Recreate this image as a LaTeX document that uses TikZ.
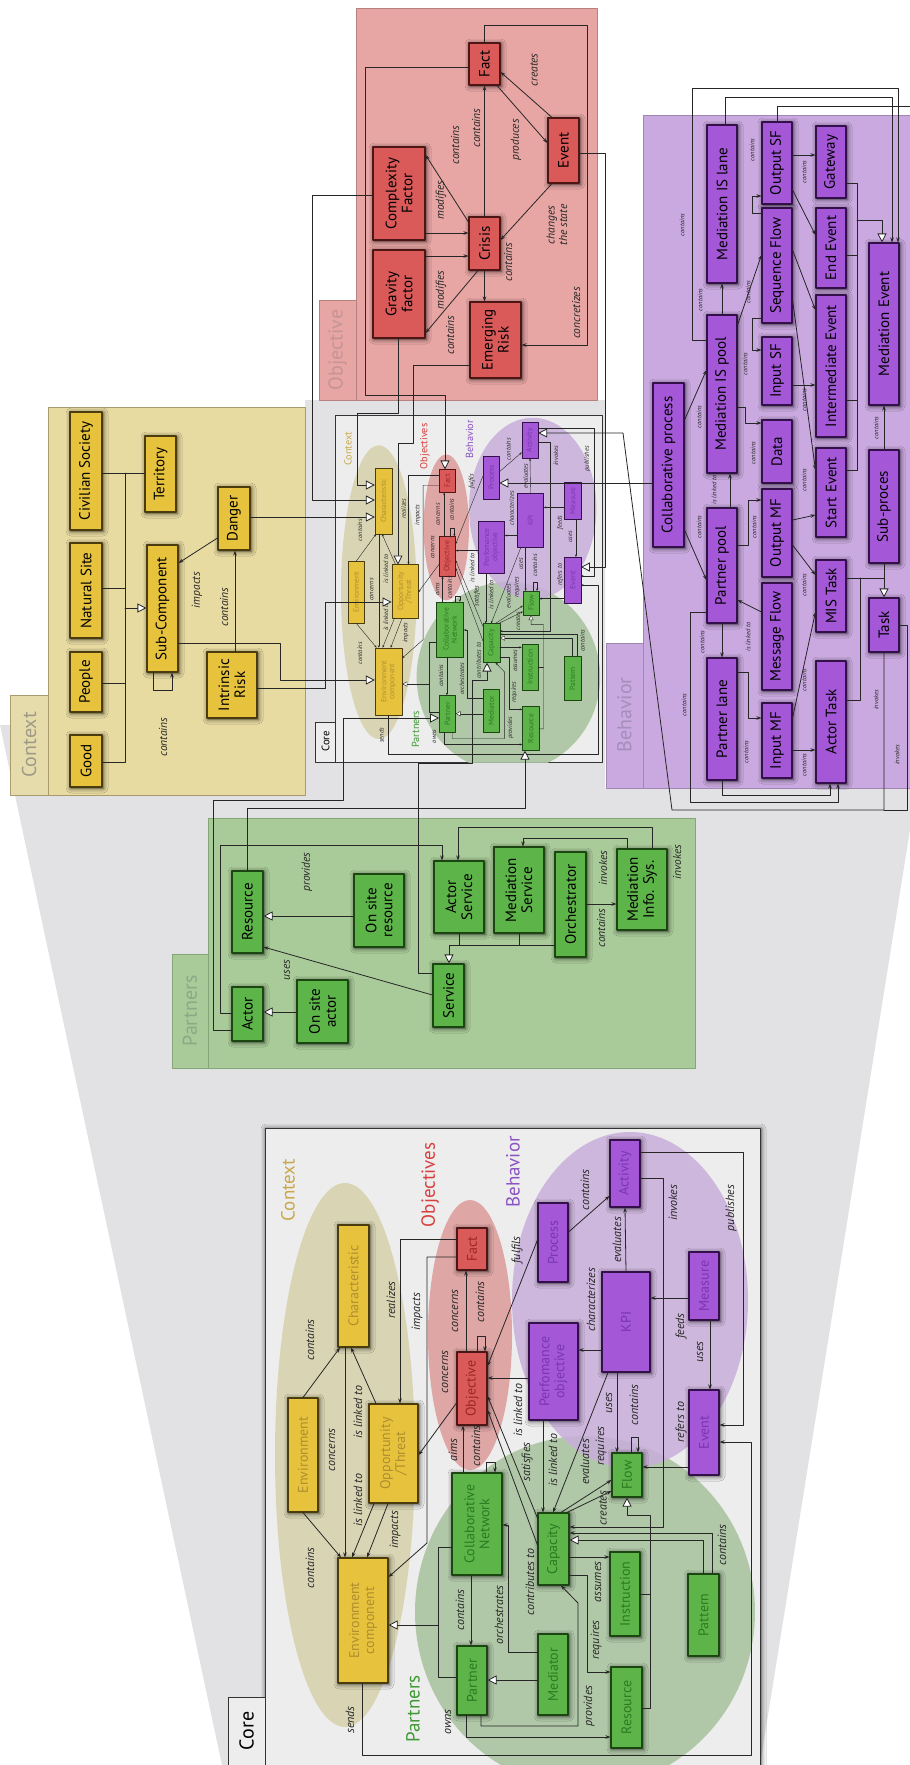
\documentclass[tikz,border=0pt]{standalone}
\usepackage{fontspec}
\setmainfont{PT Sans}
\usetikzlibrary{arrows.meta,shadows.blur}

\definecolor{colctxbg}{HTML}{E8DBA2}
\definecolor{colctxline}{HTML}{A89C6E}
\definecolor{colctxtab}{HTML}{E6DCAB}
\definecolor{colctxtabtext}{HTML}{9E9A86}
\definecolor{colynode}{HTML}{E6C23D}
\definecolor{colyline}{HTML}{4A3C0C}
\definecolor{colytext}{HTML}{B08E2E}
\definecolor{colobjbg}{HTML}{E7A6A4}
\definecolor{colobjline}{HTML}{B58280}
\definecolor{colobjtabtext}{HTML}{C59494}
\definecolor{colrnode}{HTML}{D95A59}
\definecolor{colrline}{HTML}{4E1515}
\definecolor{colrtext}{HTML}{9E2626}
\definecolor{colbehbg}{HTML}{C9A9DF}
\definecolor{colbehline}{HTML}{9F86B5}
\definecolor{colbehtabtext}{HTML}{A58EBB}
\definecolor{colpnode}{HTML}{A458D8}
\definecolor{colpline}{HTML}{34104A}
\definecolor{colptext}{HTML}{7A36AE}
\definecolor{colpartbg}{HTML}{A9CB99}
\definecolor{colpartline}{HTML}{86A67A}
\definecolor{colparttabtext}{HTML}{8BA984}
\definecolor{colgnode}{HTML}{5DB54A}
\definecolor{colgline}{HTML}{1B4511}
\definecolor{colgtext}{HTML}{2C7A20}
\definecolor{colcorebg}{HTML}{EDEDED}
\definecolor{colfunnel}{HTML}{E2E2E4}
\definecolor{colctxell}{HTML}{D9D5B4}
\definecolor{colobjell}{HTML}{DEA6A5}
\definecolor{colbehell}{HTML}{C9AEDB}
\definecolor{colpartell}{HTML}{ABC5A1}
\definecolor{colctxtitle}{HTML}{C9A84C}
\definecolor{colobjtitle}{HTML}{D8403E}
\definecolor{colbehtitle}{HTML}{8A52C2}
\definecolor{colparttitle}{HTML}{3E9934}

\newcommand\nodefont{\fontsize{15}{16}\selectfont}
\newcommand\corefont{\fontsize{14}{15}\selectfont}
\newcommand\lblfont{\fontsize{11.5}{12.5}\selectfont\itshape}
\newcommand\clblfont{\fontsize{12}{13}\selectfont\itshape}
\newcommand\tinyfont{\fontsize{6.5}{7}\selectfont\itshape}
\newcommand\tabfont{\fontsize{20}{22}\selectfont}
\newcommand\titlefont{\fontsize{19}{21}\selectfont}
\newcommand\corelw{0.8pt}
\newcommand\boxlw{1.1pt}
\newcommand\arrl{5pt}
\newcommand\arrw{3.6pt}
\newcommand\trl{9pt}
\newcommand\trw{9pt}

% the core model, drawn twice (full size and as a thumbnail)
\newcommand\drawcore{%
  \draw[coreframe] (265,1128) rectangle (760,1770);
  \draw[coretab] (228,1697) rectangle (265,1770);
  \node[tabtitle, text=black] (coretitle) at (246.5,1731) {Core};
  \begin{scope}
    \clip (265,1128) rectangle (760,1770);
    \fill[colctxell] (345,1455) ellipse [x radius=70, y radius=272];
    \fill[colobjell] (470,1335) ellipse [x radius=42, y radius=135];
    \fill[colpartell, opacity=0.9] (585,1612) ellipse [x radius=170, y radius=176];
    \fill[colbehell, opacity=0.85] (630,1300) ellipse [x radius=118, y radius=168];
  \end{scope}
  \node[ctitle, text=colctxtitle] (ttlctx) at (288,1190) {Context};
  \node[ctitle, text=colobjtitle] (ttlobj) at (430,1185) {Objectives};
  \node[ctitle, text=colbehtitle] (ttlbeh) at (513,1172) {Behavior};
  \node[ctitle, text=colparttitle] (ttlpart) at (413,1709) {Partners};
  % nodes
  \node[cybox, minimum width=122, minimum height=31] (char) at (353.5,1286) {Characteristic};
  \node[cybox, minimum width=114, minimum height=30] (env) at (303,1455) {Environment};
  \node[cybox, minimum width=99, minimum height=49] (opp) at (393.5,1453.5) {Opportunity\\/Threat};
  \node[cybox, minimum width=125, minimum height=50] (envcomp) at (363,1620.5) {Environment\\component};
  \node[crbox, minimum width=42, minimum height=30] (cfact) at (472,1249) {Fact};
  \node[crbox, minimum width=73, minimum height=30] (objective) at (472,1388.5) {Objective};
  \node[cpbox, minimum width=79, minimum height=30] (process) at (553,1242.5) {Process};
  \node[cpbox, minimum width=67, minimum height=30] (activity) at (625,1173.5) {Activity};
  \node[cpbox, minimum width=100, minimum height=48] (kpi) at (626,1322) {KPI};
  \node[cpbox, minimum width=97, minimum height=49] (perfobj) at (553.5,1371.5) {Perfomance\\objective};
  \node[cpbox, minimum width=68, minimum height=30] (measure) at (704,1286) {Measure};
  \node[cpbox, minimum width=85, minimum height=30] (cevent) at (704,1432.5) {Event};
  \node[cgbox, minimum width=44, minimum height=30] (flow) at (627,1475) {Flow};
  \node[cgbox, minimum width=102, minimum height=50] (collnet) at (477,1524) {Collaborative\\Network};
  \node[cgbox, minimum width=72, minimum height=31] (capacity) at (553.5,1549) {Capacity};
  \node[cgbox, minimum width=69, minimum height=30] (partner) at (472,1680.5) {Partner};
  \node[cgbox, minimum width=81, minimum height=30] (mediator) at (553,1674.5) {Mediator};
  \node[cgbox, minimum width=84, minimum height=30] (instruction) at (625,1594) {Instruction};
  \node[cgbox, minimum width=81, minimum height=31] (cresource) at (626.5,1707.5) {Resource};
  \node[cgbox, minimum width=82, minimum height=31] (pattern) at (703.5,1615) {Pattern};
  % connectors
  \draw[ln,arr] (env.east) -- (char.west -| 340,0);
  \draw[ln,arr] (env.west) -- (envcomp.east -| 341,0);
  \draw[ln,arr] (char.west -| 345,0) -- (envcomp.east -| 345,0);
  \draw[ln,arr] (opp.east -| 376,0) -- (char.west -| 351,0);
  \draw[ln,arr] (opp.west -| 374,0) -- (envcomp.east -| 352,0);
  \draw[ln,arr] (opp.west -| 388,0) -- (envcomp.east -| 367,0);
  \draw[ln,arr] (cfact.north |- 0,1239) -- (400,1239) -- (opp.east -| 400,0);
  \draw[ln,arr] (cfact.north |- 0,1257) -- (427,1257) -- (427,1543) -- (envcomp.south |- 0,1577);
  \draw[ln,arr] (objective.north |- 0,1403) -- (opp.south |- 0,1455);
  \draw[ln,arr] (objective.east -| 466,0) -- (cfact.west -| 466,0);
  \draw[ln,arr] (objective.east -| 477,0) -- (477,1336) -- (485,1336) -- (objective.east -| 485,0);
  \draw[ln,arr] (collnet.east -| 463,0) -- (objective.west -| 463,0);
  \draw[ln,arr] (collnet.east -| 486,0) -- (486,1462) -- (495,1462) -- (collnet.east -| 495,0);
  \draw[ln,arr] (perfobj.north |- 0,1378) -- (objective.south |- 0,1378);
  \draw[ln,arr] (process.north |- 0,1240) -- (objective.south |- 0,1366);
  \draw[ln,arr] (process.south |- 0,1232) -- (activity.north |- 0,1196);
  \draw[ln,arr] (kpi.east -| 626,0) -- (activity.west);
  \draw[ln,arr] (kpi.north |- 0,1350) -- (perfobj.south |- 0,1350);
  \draw[ln,arr] (measure.north |- 0,1298) -- (kpi.south |- 0,1298);
  \draw[ln,arr] (measure.west -| 710,0) -- (cevent.east -| 710,0);
  \draw[ln,arr] (cevent.north |- 0,1467) -- (flow.south |- 0,1467);
  \draw[ln,arr] (kpi.west -| 617,0) -- (flow.east -| 617,0);
  \draw[ln,arr] (flow.east -| 631,0) -- (631,1437) -- (638,1437) -- (flow.east -| 638,0);
  \draw[ln,arr] (activity.south |- 0,1178) -- (663,1178) -- (663,1527) -- (capacity.south |- 0,1527);
  \draw[ln,arr] (activity.south |- 0,1152) -- (743,1152) -- (743,1425) -- (cevent.south |- 0,1425);
  \draw[ln,arr] (envcomp.west -| 362,0) -- (362,1755) -- (751,1755) -- (751,1442) -- (cevent.south |- 0,1442);
  \draw[ln,arr] (partner.west -| 466,0) -- (466,1737) -- (cresource.north |- 0,1737);
  \draw[ln,arr] (partner.west -| 481,0) -- (481,1726) -- (578,1726) -- (578,1603) -- (capacity.west -| 561,0);
  \draw[ln,tri] (mediator.north |- 0,1680) -- (partner.south |- 0,1680);
  \draw[ln,arr] (collnet.west -| 471,0) -- (partner.east -| 471,0);
  \draw[ln,arr] (mediator.north |- 0,1652) -- (508,1652) -- (508,1525) -- (collnet.south |- 0,1525);
  \draw[ln,arr] (capacity.north |- 0,1545) -- (objective.south |- 0,1410);
  \draw[ln,arr] (capacity.north |- 0,1518) -- (objective.south |- 0,1396);
  \draw[ln,arr] (perfobj.west -| 543,0) -- (capacity.east -| 543,0);
  \draw[ln,arr] (kpi.west -| 608,0) -- (capacity.east -| 553,0);
  \draw[ln,arr] (capacity.east -| 561,0) -- (flow.north |- 0,1480);
  \draw[ln,arr] (capacity.east -| 567,0) -- (flow.north |- 0,1491);
  \draw[ln,arr] (capacity.south |- 0,1557) -- (instruction.north |- 0,1557);
  \draw[ln,arr] (capacity.south |- 0,1575) -- (587,1575) -- (587,1672) -- (cresource.north |- 0,1672);
  \draw[ln] (instruction.south |- 0,1594) -- (650,1594);
  \draw[ln,tri] (cresource.south |- 0,1708) -- (650,1708) -- (650,1515) -- (627,1515) -- (flow.west);
  \draw[ln,tri] (pattern.east -| 703,0) -- (703,1540) -- (capacity.south |- 0,1540);
  \draw[ln,arr] (pattern.east -| 712,0) -- (712,1533) -- (capacity.south |- 0,1533);
  \draw[ln] (collnet.north |- 0,1547) -- (438,1547) -- (438,1677) -- (partner.north |- 0,1677);
  \draw[ln,tri] (438,1625) -- (envcomp.south |- 0,1625);
  % labels
  \node[clbl] (lc1) at (310,1340) {contains};
  \node[clbl] (lc2) at (310,1568) {contains};
  \node[clbl] (lc3) at (332,1450) {concerns};
  \node[clbl] (lc4) at (358,1412) {is linked to};
  \node[clbl] (lc5) at (358,1500) {is linked to};
  \node[clbl] (lc6) at (395,1530) {impacts};
  \node[clbl] (lc7) at (391,1300) {realizes};
  \node[clbl] (lc8) at (417,1312) {impacts};
  \node[clbl] (lc9) at (445,1372) {concerns};
  \node[clbl] (lc10) at (455,1311) {concerns};
  \node[clbl] (lc11) at (480,1302) {contains};
  \node[clbl] (lc12) at (453,1450) {aims};
  \node[clbl] (lc13) at (476,1446) {contains};
  \node[clbl] (lc14) at (518,1410) {is linked to};
  \node[clbl] (lc15) at (517,1250) {fulfils};
  \node[clbl] (lc16) at (585,1190) {contains};
  \node[clbl] (lc17) at (617,1240) {evaluates};
  \node[clbl] (lc18) at (591,1300) {characterizes};
  \node[clbl] (lc19) at (681,1326) {feeds};
  \node[clbl] (lc20) at (700,1352) {uses};
  \node[clbl] (lc21) at (681,1422) {refers to};
  \node[clbl] (lc22) at (609,1403) {uses};
  \node[clbl] (lc23) at (634,1405) {contains};
  \node[clbl] (lc24) at (673,1203) {invokes};
  \node[clbl] (lc25) at (731,1208) {publishes};
  \node[clbl] (lc26) at (350,1720) {sends};
  \node[clbl] (lc27) at (448,1722) {owns};
  \node[clbl] (lc28) at (589,1706) {provides};
  \node[clbl] (lc29) at (460,1610) {contains};
  \node[clbl] (lc30) at (499,1615) {orchestrates};
  \node[clbl] (lc31) at (530,1582) {contributes to};
  \node[clbl] (lc32) at (527,1462) {satisfies};
  \node[clbl] (lc33) at (553,1460) {is linked to};
  \node[clbl] (lc34) at (585,1462) {evaluates};
  \node[clbl] (lc35) at (601,1446) {requires};
  \node[clbl] (lc36) at (603,1508) {creates};
  \node[clbl] (lc37) at (598,1582) {assumes};
  \node[clbl] (lc38) at (596,1640) {requires};
  \node[clbl] (lc39) at (722,1545) {contains};
}

\begin{document}
\begin{tikzpicture}[
  x=1pt, y=-1pt,
  line cap=round, line join=round,
  ln/.style={draw=black!85, line width=\corelw},
  arr/.style={-{Stealth[length=\arrl,width=\arrw]}},
  tri/.style={-{Triangle[length=\trl,width=\trw,fill=white]}},
  cshadow/.style={blur shadow={shadow xshift=1pt,shadow yshift=-1pt,shadow blur radius=5pt,shadow opacity=75}},
  nbox/.style={rotate=90, draw=#1, line width=\boxlw, inner sep=1pt, align=center, cshadow},
  ybox/.style={nbox=colyline, fill=colynode, font=\nodefont},
  rbox/.style={nbox=colrline, fill=colrnode, font=\nodefont},
  pbox/.style={nbox=colpline, fill=colpnode, font=\nodefont},
  gbox/.style={nbox=colgline, fill=colgnode, font=\nodefont},
  cybox/.style={nbox=colyline, fill=colynode, text=colytext, font=\corefont},
  crbox/.style={nbox=colrline, fill=colrnode, text=colrtext, font=\corefont},
  cpbox/.style={nbox=colpline, fill=colpnode, text=colptext, font=\corefont},
  cgbox/.style={nbox=colgline, fill=colgnode, text=colgtext, font=\corefont},
  lbl/.style={rotate=90, font=\lblfont, inner sep=0.5pt, align=center, text=black!85},
  clbl/.style={lbl, font=\clblfont},
  tlbl/.style={lbl, font=\tinyfont},
  tabtitle/.style={rotate=90, font=\tabfont, inner sep=0pt},
  ctitle/.style={rotate=90, font=\titlefont, inner sep=0pt},
  grpframe/.style={draw=#1, line width=0.7pt},
  coreframe/.style={draw=black!80, line width=1pt, fill=colcorebg, cshadow},
  coretab/.style={draw=black!80, line width=1pt, fill=colcorebg}
]
  \useasboundingbox (0,0) rectangle (910,1765);
  \fill[white] (0,0) rectangle (910,1765);

  % funnel from the thumbnail to the core
  \fill[colfunnel] (305,400) -- (605,400) -- (605,788) -- (910,788) -- (910,830)
    -- (760,1765) -- (222,1765) -- (0,725) -- (305,725) -- cycle;

  % Context
  \draw[grpframe=colctxline, fill=colctxbg] (48,407) rectangle (305,795);
  \draw[grpframe=colctxline, fill=colctxtab] (10,695) rectangle (48,795);
  \node[tabtitle, text=colctxtabtext] (ctxtab) at (29,745) {Context};
  \node[ybox, minimum width=118, minimum height=32] (civsoc) at (86,471) {Civilian Society};
  \node[ybox, minimum width=95, minimum height=32] (natsite) at (86,590.5) {Natural Site};
  \node[ybox, minimum width=60, minimum height=32] (people) at (86,682) {People};
  \node[ybox, minimum width=52, minimum height=32] (good) at (86,761) {Good};
  \node[ybox, minimum width=76, minimum height=31] (territory) at (160.5,474) {Territory};
  \node[ybox, minimum width=127, minimum height=31] (subcomp) at (162.5,608.5) {Sub-Component};
  \node[ybox, minimum width=63, minimum height=32] (danger) at (234,518.5) {Danger};
  \node[ybox, minimum width=66, minimum height=50] (intrisk) at (232,685) {Intrinsic\\Risk};
  \draw[ln] (civsoc.south |- 0,473) -- (territory.north |- 0,473);
  \draw[ln] (125,473) -- (125,762) -- (good.south |- 0,762);
  \draw[ln] (natsite.south |- 0,588) -- (125,588);
  \draw[ln] (people.south |- 0,683) -- (125,683);
  \draw[ln,tri] (125,608) -- (subcomp.north |- 0,608);
  \draw[ln,arr] (subcomp.west -| 153,0) -- (153,690) -- (172,690) -- (subcomp.west -| 172,0);
  \draw[ln,arr] (danger.north |- 0,538) -- (subcomp.south |- 0,563);
  \draw[ln,arr] (intrisk.east -| 235,0) -- (danger.west -| 235,0);
  \node[lbl] (lx1) at (163,737) {contains};
  \node[lbl] (lx2) at (197,590) {impacts};
  \node[lbl] (lx3) at (224,607) {contains};

  % Objective
  \draw[grpframe=colobjline, fill=colobjbg] (356,8) rectangle (597,400);
  \draw[grpframe=colobjline, fill=colobjbg] (319,300) rectangle (356,400);
  \node[tabtitle, text=colobjtabtext] (objtab) at (337.5,350) {Objective};
  \node[rbox, minimum width=88, minimum height=52] (gravity) at (399,294) {Gravity\\factor};
  \node[rbox, minimum width=93, minimum height=52] (complexity) at (399,193.5) {Complexity\\Factor};
  \node[rbox, minimum width=53, minimum height=31] (crisis) at (484.5,243.5) {Crisis};
  \node[rbox, minimum width=42, minimum height=31] (fact) at (484.5,64) {Fact};
  \node[rbox, minimum width=65, minimum height=31] (event) at (563.5,150.5) {Event};
  \node[rbox, minimum width=76, minimum height=51] (emrisk) at (495.5,340) {Emerging\\Risk};
  \draw[ln,arr] (complexity.south |- 0,233) -- (crisis.north |- 0,233);
  \draw[ln,arr] (gravity.south |- 0,256) -- (crisis.north |- 0,256);
  \draw[ln,arr] (crisis.north |- 0,222) -- (complexity.south |- 0,155);
  \draw[ln,arr] (crisis.west -| 478,0) -- (gravity.south |- 0,333);
  \draw[ln,arr] (crisis.east) -- (fact.west);
  \draw[ln,arr] (crisis.west) -- (emrisk.east -| 484.5,0);
  \draw[ln,arr] (fact.west -| 497,0) -- (event.north |- 0,143);
  \draw[ln,arr] (event.east -| 552,0) -- (fact.south |- 0,72);
  \draw[ln,arr] (event.west -| 552,0) -- (crisis.south |- 0,240);
  \draw[ln,arr] (fact.east) -- (484.5,25) -- (587,25) -- (587,345) -- (emrisk.south |- 0,345);
  \node[lbl] (lo1) at (441,200) {modifies};
  \node[lbl] (lo2) at (441,290) {modifies};
  \node[lbl] (lo3) at (455,145) {contains};
  \node[lbl] (lo4) at (450,335) {contains};
  \node[lbl] (lo5) at (476,128) {contains};
  \node[lbl] (lo6) at (508,262) {contains};
  \node[lbl] (lo7) at (516,140) {produces};
  \node[lbl] (lo8) at (534,70) {creates};
  \node[lbl] (lo9) at (557,225) {changes\\the state};
  \node[lbl] (lo10) at (576,313) {concretizes};

  % Behavior
  \draw[grpframe=colbehline, fill=colbehbg] (643,115) rectangle (915,788);
  \draw[grpframe=colbehline, fill=colbehbg] (606,643) rectangle (643,788);
  \node[tabtitle, text=colbehtabtext] (behtab) at (624.5,715) {Behavior};
  \node[pbox, minimum width=158, minimum height=30] (mislane) at (722,204) {Mediation IS lane};
  \node[pbox, minimum width=82, minimum height=30] (outsf) at (777,163) {Output SF};
  \node[pbox, minimum width=115, minimum height=30] (seqflow) at (777,265.5) {Sequence Flow};
  \node[pbox, minimum width=72, minimum height=30] (gateway) at (831,162) {Gateway};
  \node[pbox, minimum width=80, minimum height=30] (endevent) at (831,248) {End Event};
  \node[pbox, minimum width=142, minimum height=30] (interevent) at (831,366) {Intermediate Event};
  \node[pbox, minimum width=162, minimum height=30] (medevent) at (884,324) {Mediation Event};
  \node[pbox, minimum width=158, minimum height=30] (mispool) at (722,394) {Mediation IS pool};
  \node[pbox, minimum width=68, minimum height=30] (insf) at (777,371) {Input SF};
  \node[pbox, minimum width=164, minimum height=31] (collproc) at (668.5,465) {Collaborative process};
  \node[pbox, minimum width=63, minimum height=30] (data) at (777,451.5) {Data};
  \node[pbox, minimum width=88, minimum height=30] (outmf) at (777,533) {Output MF};
  \node[pbox, minimum width=107, minimum height=30] (msgflow) at (777,636.5) {Message Flow};
  \node[pbox, minimum width=75, minimum height=30] (inmf) at (777,740.5) {Input MF};
  \node[pbox, minimum width=115, minimum height=30] (ppool) at (722,565.5) {Partner pool};
  \node[pbox, minimum width=122, minimum height=30] (plane) at (722,719) {Partner lane};
  \node[pbox, minimum width=89, minimum height=30] (startevent) at (831,492.5) {Start Event};
  \node[pbox, minimum width=72, minimum height=30] (mistask) at (831,596) {MIS Task};
  \node[pbox, minimum width=122, minimum height=30] (actortask) at (831,722) {Actor Task};
  \node[pbox, minimum width=113, minimum height=30] (subproc) at (884,506.5) {Sub-proces};
  \node[pbox, minimum width=54, minimum height=30] (task) at (884,625) {Task};
  \coordinate (edgeR) at (912,106);
  \draw[ln,arr] (collproc.south |- 0,420) -- (mispool.north |- 0,370);
  \draw[ln,arr] (collproc.south |- 0,530) -- (ppool.north |- 0,580);
  \draw[ln,arr] (mispool.north |- 0,340) -- (692,340) -- (692,88) -- (898,88) -- (medevent.east -| 898,0);
  \draw[ln,arr] (mislane.east -| 725,0) -- (725,97) -- (892,97) -- (medevent.east -| 892,0);
  \draw[ln] (outsf.east -| 777,0) -- (777,106) -- (edgeR);
  \draw[ln,arr] (mispool.east) -- (mislane.west);
  \draw[ln,arr] (mispool.south |- 0,325) -- (seqflow.north |- 0,255);
  \draw[ln,arr] (seqflow.north |- 0,213) -- (752,213) -- (752,196) -- (outsf.north |- 0,196);
  \draw[ln,arr] (seqflow.north |- 0,318) -- (752,318) -- (752,350) -- (insf.north |- 0,350);
  \draw[ln,arr] (outsf.south |- 0,155) -- (gateway.north |- 0,155);
  \draw[ln,arr] (outsf.south |- 0,190) -- (endevent.north |- 0,235);
  \draw[ln,arr] (seqflow.south |- 0,250) -- (interevent.north |- 0,310);
  \draw[ln,arr] (seqflow.south |- 0,300) -- (startevent.north |- 0,470);
  \draw[ln,arr] (insf.south |- 0,385) -- (interevent.north |- 0,385);
  \draw[ln] (gateway.south |- 0,183) -- (857,183) -- (857,470) -- (startevent.south |- 0,470);
  \draw[ln] (endevent.south |- 0,255) -- (857,255);
  \draw[ln] (interevent.south |- 0,400) -- (857,400);
  \draw[ln,tri] (857,220) -- (882,220) -- (medevent.east -| 882,0);
  \draw[ln,arr] (subproc.east) -- (medevent.west);
  \draw[ln,tri] (subproc.west) -- (task.east);
  \draw[ln] (mistask.south |- 0,578) -- (884,578);
  \draw[ln] (actortask.south |- 0,700) -- (860,700) -- (860,578);
  \draw[ln,arr] (ppool.west) -- (plane.east);
  \draw[ln,arr] (ppool.east -| 730,0) -- (mispool.west -| 730,0);
  \draw[ln,arr] (msgflow.north |- 0,612) -- (ppool.south |- 0,600);
  \draw[ln,arr] (mispool.south |- 0,407) -- (745,407) -- (745,423) -- (data.north |- 0,423);
  \draw[ln,arr] (ppool.south |- 0,545) -- (748,545) -- (748,500) -- (outmf.north |- 0,500);
  \draw[ln,arr] (plane.south |- 0,672) -- (748,672) -- (748,718) -- (inmf.north |- 0,718);
  \draw[ln,arr] (inmf.south |- 0,750) -- (actortask.north |- 0,750);
  \draw[ln,arr] (inmf.south |- 0,718) -- (mistask.north |- 0,612);
  \draw[ln,arr] (outmf.south |- 0,520) -- (startevent.north |- 0,515);
  \draw[ln,arr] (outmf.south |- 0,545) -- (mistask.north |- 0,575);
  \draw[ln,arr] (plane.west) -- (722,795) -- (830,795) -- (actortask.west -| 830,0);
  \draw[ln,arr] (ppool.north |- 0,612) -- (690,612) -- (690,802) -- (838,802) -- (actortask.west -| 838,0);
  \draw[ln] (task.south |- 0,625) -- (907,625) -- (907,810) -- (884,810);
  \node[tlbl] (lb1) at (699,417) {contains};
  \node[tlbl] (lb2) at (699,527) {contains};
  \node[tlbl] (lb3) at (682,225) {contains};
  \node[tlbl] (lb4) at (700,300) {contains};
  \node[tlbl] (lb5) at (748,292) {contains};
  \node[tlbl] (lb6) at (752,150) {contains};
  \node[tlbl] (lb7) at (745,364) {contains};
  \node[tlbl] (lb8) at (804,172) {contains};
  \node[tlbl] (lb9) at (804,400) {contains};
  \node[tlbl] (lb10) at (804,480) {contains};
  \node[tlbl] (lb11) at (876,428) {contains};
  \node[tlbl] (lb12) at (702,642) {contains};
  \node[tlbl] (lb13) at (714,490) {is linked to};
  \node[tlbl] (lb14) at (748,637) {is linked to};
  \node[tlbl] (lb15) at (753,453) {contains};
  \node[tlbl] (lb16) at (754,527) {contains};
  \node[tlbl] (lb17) at (746,752) {contains};
  \node[tlbl] (lb18) at (804,765) {contains};
  \node[tlbl] (lb19) at (804,680) {contains};
  \node[tlbl] (lb20) at (684,705) {contains};
  \node[tlbl] (lb21) at (876,700) {invokes};
  \node[tlbl] (lb22) at (897,755) {invokes};
  \node[tlbl] (lb23) at (804,585) {contains};

  % Partners
  \draw[grpframe=colpartline, fill=colpartbg] (208,818) rectangle (695,1068);
  \draw[grpframe=colpartline, fill=colpartbg] (172,954) rectangle (208,1068);
  \node[tabtitle, text=colparttabtext] (parttab) at (190,1011) {Partners};
  \node[gbox, minimum width=82, minimum height=31] (resource) at (247.5,912) {Resource};
  \node[gbox, minimum width=54, minimum height=31] (actor) at (247.5,1014) {Actor};
  \node[gbox, minimum width=73, minimum height=50] (onsiteres) at (379,910.5) {On site\\resource};
  \node[gbox, minimum width=63, minimum height=51] (onsiteact) at (322.5,1011.5) {On site\\actor};
  \node[gbox, minimum width=72, minimum height=50] (actserv) at (459,897) {Actor\\Service};
  \node[gbox, minimum width=63, minimum height=31] (service) at (448.5,995.5) {Service};
  \node[gbox, minimum width=86, minimum height=50] (medserv) at (519,890) {Mediation\\Service};
  \node[gbox, minimum width=105, minimum height=31] (orch) at (570.5,904.5) {Orchestrator};
  \node[gbox, minimum width=81, minimum height=50] (mis) at (642,889.5) {Mediation\\Info. Sys.};
  \draw[ln,tri] (onsiteres.north |- 0,916) -- (resource.south |- 0,916);
  \draw[ln,tri] (onsiteact.north |- 0,1012) -- (actor.south |- 0,1012);
  \draw[ln,arr] (service.north |- 0,995) -- (resource.south |- 0,947);
  \draw[ln] (actserv.west) -- (actserv.west |- 0,945);
  \draw[ln] (medserv.west) -- (medserv.west |- 0,945);
  \draw[ln,tri] (orch.north |- 0,945) -- (449,945) -- (service.east -| 449,0);
  \draw[ln,arr] (actor.north |- 0,1013) -- (220,1013) -- (220,845) -- (442,845) -- (actserv.east -| 442,0);
  \draw[ln,arr] (orch.south |- 0,904) -- (mis.north |- 0,904);
  \draw[ln,arr] (mis.east -| 627,0) -- (627,838) -- (523,838) -- (medserv.east -| 523,0);
  \draw[ln,arr] (mis.east -| 652,0) -- (652,827) -- (458,827) -- (actserv.east -| 458,0);
  \node[lbl] (lp1) at (287,970) {uses};
  \node[lbl] (lp2) at (307,872) {provides};
  \node[lbl] (lp3) at (603,868) {invokes};
  \node[lbl] (lp4) at (601,928) {contains};
  \node[lbl] (lp5) at (677,862) {invokes};

  % Core
  \drawcore

  % Core thumbnail
  \begin{scope}[shift={(192.5,-193.5)}, scale=0.54, transform shape, name prefix=t-]
    \renewcommand\corelw{0.4pt}
    \renewcommand\boxlw{0.5pt}
    \renewcommand\arrl{2.6pt}
    \renewcommand\arrw{2pt}
    \renewcommand\trl{5pt}
    \renewcommand\trw{5pt}
    \tikzset{cshadow/.style={}}
    \drawcore
  \end{scope}

  % links into the thumbnail
  \draw[ln,tri] (danger.south |- 0,517) -- (t-char.north |- 0,517);
  \draw[ln,tri] (subcomp.south |- 0,643) -- (280,643) -- (280,680) -- (t-envcomp.north |- 0,680);
  \draw[ln,tri] (intrisk.south |- 0,688) -- (325,688) -- (325,602) -- (t-opp.north |- 0,602);
  \draw[ln,tri] (complexity.north |- 0,195) -- (312,195) -- (312,500) -- (t-char.north |- 0,500);
  \draw[ln,tri] (gravity.west -| 398,0) -- (398,413) -- (357,413) -- (357,485) -- (t-char.north |- 0,485);
  \draw[ln,tri] (emrisk.north |- 0,365) -- (413,365) -- (413,443) -- (398,443) -- (t-opp.east -| 398,0);
  \draw[ln,tri] (fact.north |- 0,67) -- (365,67) -- (365,395) -- (445,395) -- (t-cfact.east -| 445,0);
  \draw[ln,tri] (event.south |- 0,153) -- (605,153) -- (605,567) -- (t-cevent.south |- 0,567);
  \draw[ln,tri] (collproc.north |- 0,483) -- (t-process.south |- 0,483);
  \draw[ln,tri] (task.west) -- (884,810) -- (672,810) -- (623,433) -- (t-activity.south |- 0,433);
  \draw[ln,tri] (resource.east -| 247,0) -- (247,808) -- (525,808) -- (t-cresource.west -| 525,0);
  \draw[ln,tri] (actor.north |- 0,1030) -- (213,1030) -- (213,800) -- (343,800) -- (343,718) -- (t-partner.north |- 0,718);
  \draw[ln,tri] (service.north |- 0,973) -- (418,973) -- (418,763) -- (472,763) -- (472,680) -- (487,680) -- (t-capacity.west -| 487,0);
\end{tikzpicture}
\end{document}
